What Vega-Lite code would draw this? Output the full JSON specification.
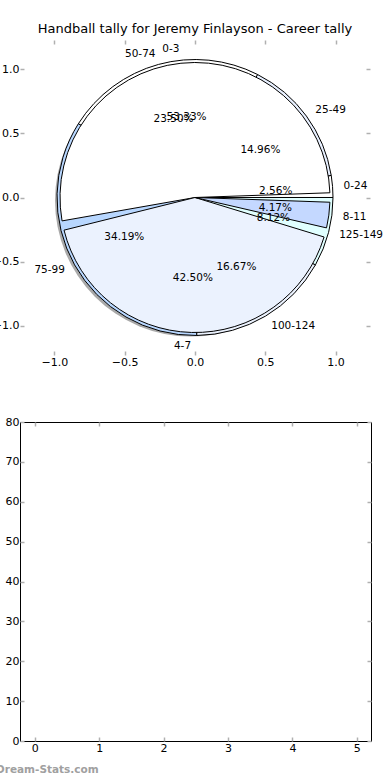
{
  "$schema": "https://vega.github.io/schema/vega-lite/v6.json",
  "background": "white",
  "padding": {"left": -8, "top": 23, "right": 0, "bottom": 0},
  "spacing": 48,
  "config": {
    "view": {"stroke": null},
    "font": "DejaVu Sans",
    "axis": {"domain": false, "grid": false, "tickColor": "#b0b0b0", "tickSize": -4, "tickWidth": 1.5, "labelFont": "DejaVu Sans", "labelFontSize": 11, "labelColor": "black", "labelPadding": 5, "title": null}
  },
  "datasets": {
    "hb": [
      {"label": "0-3", "pct": 53.33, "pctText": "53.33%", "idx": 0},
      {"label": "4-7", "pct": 42.50, "pctText": "42.50%", "idx": 1},
      {"label": "8-11", "pct": 4.17, "pctText": "4.17%", "idx": 2}
    ],
    "ds": [
      {"label": "0-24", "pct": 2.56, "pctText": "2.56%", "idx": 0},
      {"label": "25-49", "pct": 14.96, "pctText": "14.96%", "idx": 1},
      {"label": "50-74", "pct": 23.50, "pctText": "23.50%", "idx": 2},
      {"label": "75-99", "pct": 34.19, "pctText": "34.19%", "idx": 3},
      {"label": "100-124", "pct": 16.67, "pctText": "16.67%", "idx": 4},
      {"label": "125-149", "pct": 8.12, "pctText": "8.12%", "idx": 5}
    ],
    "whole": [{"pct": 100}],
    "origin": [{"x": 0, "y": 0}]
  },
  "vconcat": [
    {
      "title": {"text": "Handball tally for Jeremy Finlayson - Career tally", "font": "DejaVu Sans", "fontSize": 13, "fontWeight": "normal", "color": "black", "offset": 3},
      "width": 350,
      "height": 315,
      "resolve": {"axis": {"x": "independent", "y": "independent"}},
      "layer": [
        {
          "data": {"name": "origin"},
          "mark": {"type": "point", "opacity": 0},
          "encoding": {
            "x": {"field": "x", "type": "quantitative", "scale": {"domain": [-1.245, 1.245], "nice": false, "zero": false}, "axis": {"orient": "bottom", "values": [-1, -0.5, 0, 0.5, 1], "format": ".1f"}},
            "y": {"field": "y", "type": "quantitative", "scale": {"domain": [-1.23, 1.23], "nice": false, "zero": false}, "axis": {"orient": "left", "values": [-1, -0.5, 0, 0.5, 1], "format": ".1f"}}
          }
        },
        {
          "data": {"name": "origin"},
          "mark": {"type": "point", "opacity": 0},
          "encoding": {
            "x": {"field": "x", "type": "quantitative", "axis": {"orient": "top", "values": [-1, -0.5, 0, 0.5, 1], "labels": false}},
            "y": {"field": "y", "type": "quantitative", "axis": {"orient": "right", "values": [-1, -0.5, 0, 0.5, 1], "labels": false}}
          }
        },
        {
          "data": {"name": "whole"},
          "mark": {"type": "arc", "outerRadius": 136, "fill": "#707070", "opacity": 0.6, "xOffset": -4, "yOffset": 3},
          "encoding": {
            "theta": {"field": "pct", "type": "quantitative", "stack": true, "scale": {"domain": [0, 100], "range": [1.5708, -4.7124]}}
          }
        },
        {
          "data": {"name": "ds"},
          "mark": {"type": "arc", "outerRadius": 138, "stroke": "black", "strokeWidth": 1},
          "encoding": {
            "theta": {"field": "pct", "type": "quantitative", "stack": true},
            "order": {"field": "idx", "type": "quantitative"},
            "color": {"field": "label", "type": "nominal", "legend": null, "scale": {"domain": ["0-3", "4-7", "8-11", "0-24", "25-49", "50-74", "75-99", "100-124", "125-149"], "range": ["#ffffff", "#ebf2fe", "#c4d8ff", "#ffffff", "#e8f0ff", "#ffffff", "#b8d7ff", "#ebf2fe", "#e0ffff"]}}
          }
        },
        {
          "data": {"name": "hb"},
          "mark": {"type": "arc", "outerRadius": 135, "padAngle": 0.07, "stroke": "black", "strokeWidth": 1},
          "encoding": {
            "theta": {"field": "pct", "type": "quantitative", "stack": true},
            "order": {"field": "idx", "type": "quantitative"},
            "color": {"field": "label", "type": "nominal", "legend": null}
          }
        },
        {
          "data": {"name": "ds"},
          "mark": {"type": "text", "radius": 81, "fontSize": 10.5, "color": "black", "baseline": "middle"},
          "encoding": {
            "theta": {"field": "pct", "type": "quantitative", "stack": true},
            "order": {"field": "idx", "type": "quantitative"},
            "text": {"field": "pctText"}
          }
        },
        {
          "data": {"name": "hb"},
          "mark": {"type": "text", "radius": 81, "fontSize": 10.5, "color": "black", "baseline": "middle"},
          "encoding": {
            "theta": {"field": "pct", "type": "quantitative", "stack": true},
            "order": {"field": "idx", "type": "quantitative"},
            "text": {"field": "pctText"}
          }
        },
        {
          "data": {"name": "ds"},
          "mark": {"type": "text", "radius": 149, "fontSize": 10.5, "color": "black", "baseline": "middle", "align": "left"},
          "encoding": {
            "theta": {"field": "pct", "type": "quantitative", "stack": true},
            "order": {"field": "idx", "type": "quantitative"},
            "text": {"condition": {"test": "indexof(['50-74','75-99'], datum.label) < 0", "field": "label"}, "value": ""}
          }
        },
        {
          "data": {"name": "ds"},
          "mark": {"type": "text", "radius": 149, "fontSize": 10.5, "color": "black", "baseline": "middle", "align": "right"},
          "encoding": {
            "theta": {"field": "pct", "type": "quantitative", "stack": true},
            "order": {"field": "idx", "type": "quantitative"},
            "text": {"condition": {"test": "indexof(['50-74','75-99'], datum.label) >= 0", "field": "label"}, "value": ""}
          }
        },
        {
          "data": {"name": "hb"},
          "mark": {"type": "text", "radius": 149, "fontSize": 10.5, "color": "black", "baseline": "middle", "align": "left"},
          "encoding": {
            "theta": {"field": "pct", "type": "quantitative", "stack": true},
            "order": {"field": "idx", "type": "quantitative"},
            "text": {"condition": {"test": "indexof(['0-3','4-7'], datum.label) < 0", "field": "label"}, "value": ""}
          }
        },
        {
          "data": {"name": "hb"},
          "mark": {"type": "text", "radius": 149, "fontSize": 10.5, "color": "black", "baseline": "middle", "align": "right"},
          "encoding": {
            "theta": {"field": "pct", "type": "quantitative", "stack": true},
            "order": {"field": "idx", "type": "quantitative"},
            "text": {"condition": {"test": "indexof(['0-3','4-7'], datum.label) >= 0", "field": "label"}, "value": ""}
          }
        }
      ]
    },
    {
      "title": {"text": "Dream-Stats.com", "orient": "bottom", "anchor": "start", "font": "DejaVu Sans", "fontSize": 10.5, "fontWeight": "bold", "color": "#a0a0a0", "dx": -9, "offset": 12},
      "width": 351,
      "height": 319,
      "view": {"stroke": "black", "strokeWidth": 1},
      "resolve": {"axis": {"x": "independent", "y": "independent"}},
      "layer": [
        {
          "data": {"name": "origin"},
          "mark": {"type": "point", "opacity": 0},
          "encoding": {
            "x": {"field": "x", "type": "quantitative", "scale": {"domain": [-0.23, 5.22], "nice": false, "zero": false}, "axis": {"orient": "bottom", "values": [0, 1, 2, 3, 4, 5], "format": "d"}},
            "y": {"field": "y", "type": "quantitative", "scale": {"domain": [0, 80], "nice": false}, "axis": {"orient": "left", "values": [0, 10, 20, 30, 40, 50, 60, 70, 80], "format": "d"}}
          }
        },
        {
          "data": {"name": "origin"},
          "mark": {"type": "point", "opacity": 0},
          "encoding": {
            "x": {"field": "x", "type": "quantitative", "axis": {"orient": "top", "values": [0, 1, 2, 3, 4, 5], "labels": false}},
            "y": {"field": "y", "type": "quantitative", "axis": {"orient": "right", "values": [0, 10, 20, 30, 40, 50, 60, 70, 80], "labels": false}}
          }
        }
      ]
    }
  ]
}
